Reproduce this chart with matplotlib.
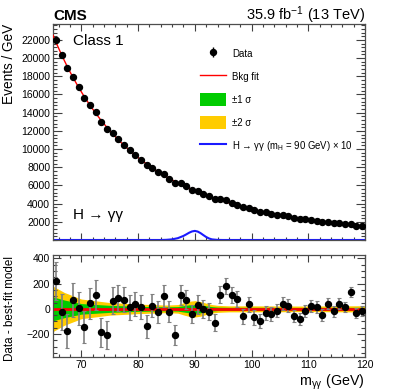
import numpy as np
import matplotlib
matplotlib.use("Agg")
import matplotlib.pyplot as plt
from matplotlib.patches import Patch
from matplotlib.lines import Line2D
from matplotlib.ticker import MultipleLocator, FixedLocator

plt.rcParams['font.family'] = ['Liberation Sans', 'DejaVu Sans']
plt.rcParams['mathtext.fontset'] = 'custom'
plt.rcParams['mathtext.rm'] = 'Liberation Sans'
plt.rcParams['mathtext.it'] = 'Liberation Sans:italic'
plt.rcParams['mathtext.bf'] = 'Liberation Sans:bold'

# bin centres (1 GeV bins)
mass = np.arange(65.5, 120.0, 1.0)

# background fit at bin centres
bkg_fit = [21780, 20380, 19090, 17900, 16800, 15780, 14830, 13960, 13140, 12390,
           11680, 11030, 10420, 9850, 9320, 8820, 8360, 7920, 7510, 7130,
           6770, 6440, 6120, 5830, 5560, 5300, 5050, 4810, 4580, 4370,
           4170, 3980, 3810, 3640, 3480, 3330, 3190, 3060, 2930, 2810,
           2700, 2590, 2480, 2380, 2290, 2200, 2110, 2030, 1960, 1880,
           1810, 1740, 1680, 1620, 1560]

# data - best-fit model
residual = [220, -25, -175, 72, 5, -142, 45, 112, -187, -208,
            66, 85, 74, 13, 40, 13, -139, 26, -22, 101,
            -22, -208, 112, 72, -40, 33, 0, -22, -110, 113,
            181, 113, 78, -59, 36, -67, -95, -32, -40, -14,
            40, 26, -59, -80, -14, 26, 13, -48, 40, -19,
            40, 13, 133, -35, -19]

# fit curve edges
fit_lo = [65.0, 22520]
fit_hi = [120.0, 1530]

# signal H -> gg (mH = 90 GeV) x 10
sig_mass = [65, 84, 85, 86, 87, 88, 88.5, 89, 89.5, 90, 90.5, 91, 91.5, 92, 92.5, 93, 94, 95, 120]
sig_vals = [0, 0, 20, 70, 200, 450, 620, 800, 940, 1000, 930, 760, 540, 330, 170, 70, 10, 0, 0]

# uncertainty bands on the residual
band_mass = [65, 67, 70, 75, 80, 85, 87, 88, 89, 90, 91, 92, 93, 94, 96, 100, 110, 120]
band_1sig = [95, 70, 42, 28, 20, 16, 18, 25, 32, 35, 32, 24, 18, 14, 12, 12, 11, 12]
band_2sig = [180, 130, 78, 50, 38, 30, 34, 48, 60, 65, 58, 45, 34, 28, 24, 24, 22, 25]

data = np.array(bkg_fit) + np.array(residual)
err = np.sqrt(data)

fig = plt.figure(figsize=(4.07, 3.91), dpi=100)
ax1 = fig.add_axes([0.1302, 0.3862, 0.7666, 0.5524])
ax2 = fig.add_axes([0.1302, 0.0869, 0.7666, 0.2609])

# ---- top panel
fit_x = [fit_lo[0]] + list(mass) + [fit_hi[0]]
fit_y = [fit_lo[1]] + bkg_fit + [fit_hi[1]]
ax1.plot(sig_mass, sig_vals, color='#1a1aff', lw=1.5, zorder=2)
ax1.plot(fit_x, fit_y, color='red', lw=1.0, zorder=3)
hdata = ax1.errorbar(mass, data, yerr=err, fmt='o', color='black', ms=4.3,
                     elinewidth=1.0, capsize=0, zorder=4)

ax1.set_xlim(65, 120)
ax1.set_ylim(0, 23750)
ax1.yaxis.set_major_locator(FixedLocator(np.arange(2000, 22001, 2000)))
ax1.yaxis.set_minor_locator(MultipleLocator(400))
ax1.xaxis.set_major_locator(MultipleLocator(10))
ax1.xaxis.set_minor_locator(MultipleLocator(2))
ax1.tick_params(labelbottom=False)
ax1.set_ylabel('Events / GeV', fontsize=9.8, loc='top')
ax1.yaxis.set_label_coords(-0.117, 1.0)

ax1.text(0.064, 0.903, 'Class 1', transform=ax1.transAxes, fontsize=11)
ax1.text(0.064, 0.096, 'H \u2192 \u03b3\u03b3', transform=ax1.transAxes, fontsize=11)

handles = [hdata,
           Line2D([], [], color='red', lw=1.0),
           Patch(facecolor='#00cc00', edgecolor='none'),
           Patch(facecolor='#ffcc00', edgecolor='none'),
           Line2D([], [], color='#1a1aff', lw=1.5)]
labels = ['Data', 'Bkg fit', '\u00b11 \u03c3', '\u00b12 \u03c3',
          'H \u2192 \u03b3\u03b3 (m$_{\\mathrm{H}}$ = 90 GeV) \u00d7 10']
ax1.legend(handles, labels, loc='upper left', bbox_to_anchor=(0.471, 0.893),
           frameon=False, fontsize=6.9, borderpad=0, borderaxespad=0,
           handlelength=2.7, handleheight=1.7, handletextpad=0.65, labelspacing=1.05)

fig.text(53 / 407, 1 - 20 / 391, 'CMS', fontsize=11, fontweight='bold', va='baseline')
fig.text(365 / 407, 1 - 20 / 391, '35.9 fb$^{-1}$ (13 TeV)', fontsize=10.5,
         ha='right', va='baseline')

# ---- bottom panel
ax2.fill_between(band_mass, [-v for v in band_2sig], band_2sig, color='#ffcc00', lw=0)
ax2.fill_between(band_mass, [-v for v in band_1sig], band_1sig, color='#00cc00', lw=0)
ax2.axhline(0, color='red', lw=2.0)
eb = ax2.errorbar(mass, residual, yerr=err, fmt='o', color='black', ms=4.3,
                  ecolor='0.5', elinewidth=1.2, capsize=1.5, capthick=0.8, zorder=4)
for cap in eb[1]:
    cap.set_color('0.2')

ax2.set_xlim(65, 120)
ax2.set_ylim(-382, 427)
ax2.yaxis.set_major_locator(FixedLocator([-200, 0, 200, 400]))
ax2.yaxis.set_minor_locator(MultipleLocator(50))
ax2.xaxis.set_major_locator(MultipleLocator(10))
ax2.xaxis.set_minor_locator(MultipleLocator(2))
ax2.set_ylabel('Data - best-fit model', fontsize=8.4)
ax2.yaxis.set_label_coords(-0.117, 0.48)
ax2.set_xlabel('m$_{\\mathrm{\u03b3\u03b3}}$ (GeV)', fontsize=10.3, loc='right')
ax2.xaxis.set_label_coords(1.0, -0.15)

for ax, ml in ((ax1, 6.5), (ax2, 5.5)):
    ax.tick_params(which='both', direction='in', top=True, right=True,
                   labelsize=7.5, width=0.8, color='0.25')
    ax.tick_params(axis='y', which='major', length=ml, pad=2)
    ax.tick_params(axis='y', which='minor', length=3)
    ax.tick_params(axis='x', which='major', length=5, pad=2)
    ax.tick_params(axis='x', which='minor', length=2.5)
    for s in ax.spines.values():
        s.set_linewidth(0.9)
        s.set_color('0.3')

fig.savefig('out.png', dpi=100)
